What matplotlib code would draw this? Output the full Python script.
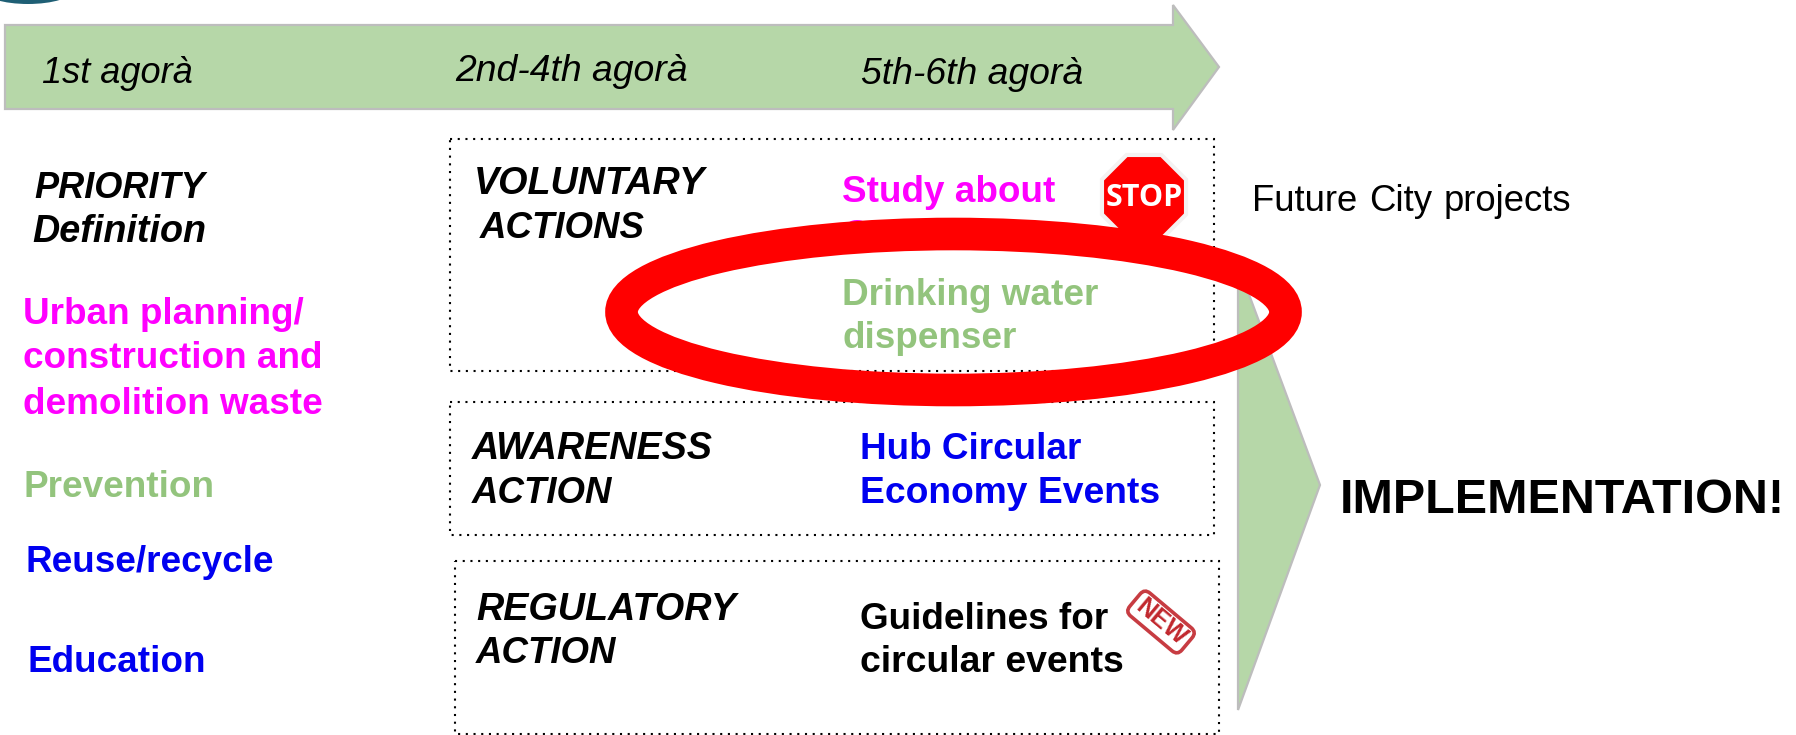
import matplotlib

matplotlib.use("Agg")

import matplotlib.pyplot as plt
from matplotlib.patches import Ellipse, FancyBboxPatch, Polygon, Rectangle, RegularPolygon
from matplotlib.transforms import Affine2D
import numpy as np

plt.rcParams["font.family"] = ["Liberation Sans", "DejaVu Sans"]

W, H = 1796, 735

GREEN_FILL = "#b6d7a8"
GREY_EDGE = "#bdbdbd"
MAGENTA = "#ff00ff"
SOFT_GREEN = "#93c47d"
BLUE = "#0000f0"
RED = "#ff0000"

stage_labels = ["1st agorà", "2nd-4th agorà", "5th-6th agorà"]
priority_heading = ["PRIORITY", "Definition"]
priority_labels = ["Urban planning/", "construction and", "demolition waste", "Prevention", "Reuse/recycle", "Education"]
action_headings = ["VOLUNTARY", "ACTIONS", "AWARENESS", "ACTION", "REGULATORY", "ACTION"]
study_lines = ["Study about", "Co"]
water_lines = ["Drinking water", "dispenser"]
hub_lines = ["Hub Circular", "Economy Events"]
guideline_lines = ["Guidelines for", "circular events"]
side_note_words = ["Future", "City", "projects"]
outcome = "IMPLEMENTATION!"

fig = plt.figure(figsize=(W / 100, H / 100), dpi=100)
ax = fig.add_axes([0, 0, 1, 1])
ax.set_xlim(0, W)
ax.set_ylim(H, 0)
ax.axis("off")


def label(x, y, text, size=26.6, color="black", weight="bold", style="normal", z=3, **kw):
    ax.text(x, y, text, fontsize=size, color=color, fontweight=weight, fontstyle=style,
            va="baseline", ha="left", zorder=z, **kw)


# logo sliver at the top edge
ax.add_patch(Ellipse((28, -10), 90, 28, facecolor="#1f5f75", edgecolor="none", zorder=1))

# timeline arrow
ax.add_patch(Polygon([(5, 25), (1173, 25), (1173, 5), (1219, 67), (1173, 130), (1173, 109), (5, 109)],
                     facecolor=GREEN_FILL, edgecolor=GREY_EDGE, linewidth=1.6, zorder=1))
for (x, y), text, size in zip([(42, 83), (455, 81), (861, 84)], stage_labels, [26, 26.9, 26.9]):
    label(x, y, text, size=size, weight="normal", style="italic")

# implementation arrow
ax.add_patch(Polygon([(1238, 265), (1320, 485), (1238, 710)],
                     facecolor=GREEN_FILL, edgecolor=GREY_EDGE, linewidth=1.6, zorder=1))

# dotted boxes
for x, y, w, h in [(450, 139, 764, 232), (450, 402, 764, 133), (455, 561, 764, 173)]:
    ax.add_patch(Rectangle((x, y), w, h, fill=False, edgecolor="black", linewidth=1.5,
                           linestyle=(0, (1, 2.7)), zorder=1))

# left column
label(34, 198, priority_heading[0], size=26, style="italic")
label(32, 242, priority_heading[1], size=27.2, style="italic")
for y, text, color in zip([324, 368, 414], priority_labels[:3], [MAGENTA] * 3):
    label(23, y, text, color=color)
label(23, 497, priority_labels[3], color=SOFT_GREEN)
label(25, 572, priority_labels[4], color=BLUE)
label(27.5, 672, priority_labels[5], color=BLUE)

# action headings
for (x, y), text, size in zip([(474, 194), (480, 238), (472, 459), (472, 503), (476.5, 620), (476, 663)],
                              action_headings, [27.2, 26.4, 27.2, 26.4, 27.2, 26.4]):
    label(x, y, text, size=size, style="italic")

# action items
label(842, 202, study_lines[0], color=MAGENTA)
label(842, 246, study_lines[1], color=MAGENTA)
label(842, 305, water_lines[0], color=SOFT_GREEN)
label(842, 348, water_lines[1], color=SOFT_GREEN)
label(860, 459, hub_lines[0], color=BLUE)
label(860, 503, hub_lines[1], size=26.8, color=BLUE)
label(860, 629, guideline_lines[0])
label(860, 672, guideline_lines[1], size=26.9)

# words are spread out in the original
for x, word in zip([1252, 1369, 1444], side_note_words):
    label(x, 210.5, word, size=26.3, weight="normal")
label(1340, 513, outcome, size=34.9)

# stop sign
ax.add_patch(RegularPolygon((1144, 197), 8, radius=45.5, orientation=np.pi / 8, facecolor=RED,
                            edgecolor="#f4f2f2", linewidth=3, zorder=2))
ax.text(1144, 198, "STOP", fontsize=22, color="white", fontweight="bold", family="Open Sans",
        ha="center", va="center", zorder=3)

# new stamp
stamp_color = "#c1272d"
stamp = FancyBboxPatch((1161 - 28, 622 - 9), 56, 18, boxstyle="round,pad=6,rounding_size=7", facecolor="white",
                       edgecolor=stamp_color, linewidth=2.6, alpha=0.9, zorder=2)
stamp.set_transform(Affine2D().rotate_deg_around(1161, 622, 40) + ax.transData)
ax.add_patch(stamp)
ax.text(1161, 622, "NEW", fontsize=18, color=stamp_color, fontweight="bold", rotation=-40,
        rotation_mode="anchor", ha="center", va="center", zorder=3)

# red ring goes on top of everything
ax.add_patch(Ellipse((953.5, 312), 664, 156, facecolor="none", edgecolor=RED, linewidth=23.5, zorder=5))

fig.savefig("out.png", dpi=100)
plt.close(fig)
